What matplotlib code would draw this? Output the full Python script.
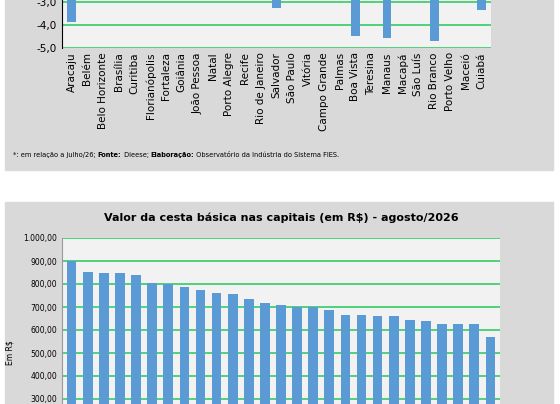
import matplotlib
matplotlib.use("Agg")
import matplotlib.pyplot as plt
from matplotlib.patches import Rectangle
from matplotlib.ticker import FuncFormatter
from matplotlib.offsetbox import TextArea, HPacker, AnchoredOffsetbox

cities = ["Aracaju","Belém","Belo Horizonte","Brasília","Curitiba","Florianópolis","Fortaleza",
          "Goiânia","João Pessoa","Natal","Porto Alegre","Recife","Rio de Janeiro","Salvador",
          "São Paulo","Vitória","Campo Grande","Palmas","Boa Vista","Teresina","Manaus","Macapá",
          "São Luís","Rio Branco","Porto Velho","Maceió","Cuiabá"]
variation = [-3.87,-1.2,-0.8,-1.5,-0.9,-1.1,-1.8,-0.6,-1.4,-2.0,-0.7,-1.6,-1.0,-3.26,
             -0.5,-1.3,-1.9,-2.2,-4.48,-1.7,-4.57,-2.4,-2.1,-4.70,-1.5,-2.6,-3.35]
cesta_values = [900,852,850,850,840,806,800,788,772,760,755,733,717,708,700,700,688,
                666,664,662,660,642,640,628,626,626,570]
title2 = "Valor da cesta básica nas capitais (em R$) - agosto/2026"
note_parts = [("*: em relação a julho/26; ", "normal"), ("Fonte:", "bold"), (" Dieese; ", "normal"),
              ("Elaboração:", "bold"), (" Observatório da Indústria do Sistema FIES.", "normal")]

W, H = 560, 404
fig = plt.figure(figsize=(5.6, 4.04), dpi=100)
fig.patch.set_facecolor("white")
panel = "#d9d9d9"; plotbg = "#f2f2f2"; green = "#33cc66"; blue = "#5b9bd5"
fig.patches.append(Rectangle((5/W, 1-170/H), 548/W, 170/H, transform=fig.transFigure, color=panel, zorder=-5))
fig.patches.append(Rectangle((5/W, 0), 548/W, (404-202)/H, transform=fig.transFigure, color=panel, zorder=-5))

def fmt(v, p):
    s = f"{v:,.2f}" if abs(v) >= 1000 else f"{v:.2f}"
    return s.replace(",", "X").replace(".", ",").replace("X", ".")
def fmt1(v, p):
    return f"{v:.1f}".replace(".", ",")

ppu = 23
# top chart
x0, x1 = 62, 491
ybot = 48
ax1 = fig.add_axes([x0/W, 1-ybot/H, (x1-x0)/W, 5*ppu/H])
ax1.set_facecolor(plotbg)
ax1.bar(range(len(cities)), variation, width=0.55, color=blue, zorder=3)
ax1.set_ylim(-5, 0)
ax1.set_xlim(-0.6, len(cities)-0.4)
ax1.set_yticks([-5, -4, -3])
ax1.yaxis.set_major_formatter(FuncFormatter(fmt1))
ax1.grid(axis="y", color=green, lw=1.2, zorder=1)
ax1.set_xticks(range(len(cities)))
ax1.set_xticklabels(cities, rotation=90, fontsize=7.5)
ax1.tick_params(axis="y", labelsize=7.5, length=0)
ax1.tick_params(axis="x", length=0, pad=3)
for s in ["top", "right", "bottom"]:
    ax1.spines[s].set_visible(False)
ax1.spines["left"].set_color("black")

boxes = [TextArea(t, textprops=dict(fontsize=4.8, fontweight=w)) for t, w in note_parts]
pack = HPacker(children=boxes, pad=0, sep=0)
ab = AnchoredOffsetbox(loc="center left", child=pack, frameon=False, pad=0, borderpad=0,
                       bbox_to_anchor=(13/W, 1-155/H), bbox_transform=fig.transFigure)
fig.add_artist(ab)

# bottom chart
x0b, x1b = 62, 500
ytop = 238
ax2 = fig.add_axes([x0b/W, 1-(ytop+10*ppu)/H, (x1b-x0b)/W, 10*ppu/H])
ax2.set_facecolor(plotbg)
ax2.bar(range(len(cesta_values)), cesta_values, width=0.6, color=blue, zorder=3)
ax2.set_ylim(0, 1000)
ax2.set_xlim(-0.6, len(cesta_values)-0.4)
ax2.set_yticks(range(300, 1001, 100))
ax2.yaxis.set_major_formatter(FuncFormatter(fmt))
ax2.grid(axis="y", color=green, lw=1.2, zorder=1)
ax2.set_xticks([])
ax2.tick_params(axis="y", labelsize=5.5, length=0)
for s in ["top", "right", "bottom"]:
    ax2.spines[s].set_visible(False)
ax2.spines["left"].set_color("#999999")
ax2.set_ylabel("Em R$", fontsize=5.5, labelpad=6)
fig.text(0.5*(x0b+x1b)/W, 1-218/H, title2, fontsize=8, fontweight="bold", ha="center", va="center")

fig.savefig("out.png", dpi=100)
